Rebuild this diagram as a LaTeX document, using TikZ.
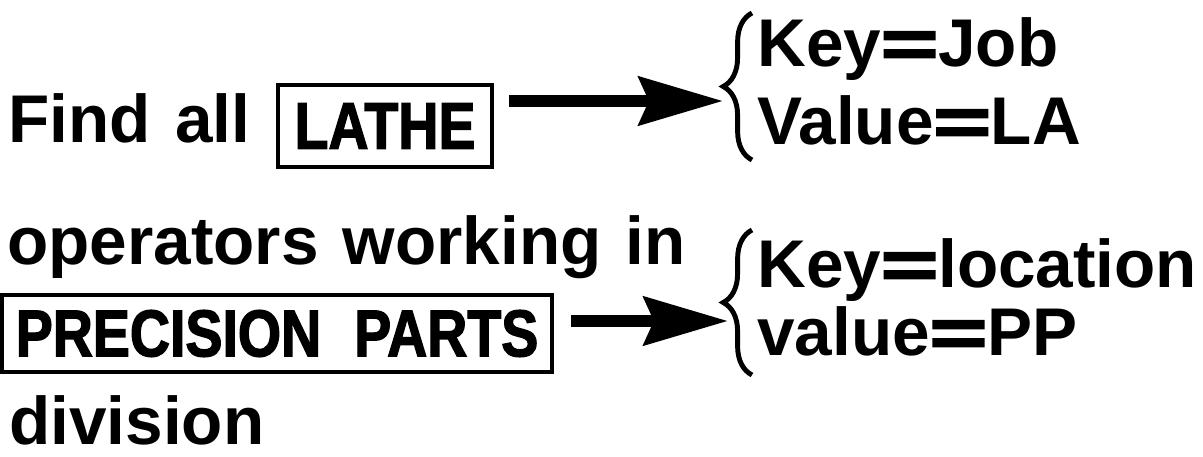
\documentclass[tikz,border=0pt]{standalone}
\usepackage{fontspec}
\setmainfont{Liberation Sans}
\newfontfamily\narrowfont[FakeStretch=0.84,FakeBold=2]{Liberation Sans}
\newfontfamily\heavyfont[FakeBold=3]{Liberation Sans}
\usetikzlibrary{arrows.meta,calc,decorations.pathreplacing}

\newcommand{\wideeq}{{\heavyfont\scalebox{1.45}[1]{=}}}
\newcommand{\mainfont}{\fontsize{48}{55}\selectfont\bfseries\spaceskip=0.36em\relax}
\newcommand{\boxfont}{\fontsize{47}{50}\selectfont\narrowfont\bfseries\spaceskip=0.5em\relax}

\begin{document}
\begin{tikzpicture}[x=0.025cm,y=-0.025cm,
  every node/.style={inner sep=0pt,font=\mainfont},
  boxword/.style={draw,line width=3.2pt,font=\boxfont},
  bigarrow/.style={line width=8.5pt,-{Stealth[length=2.1cm,width=1.2cm,inset=0.25cm]}},
  curly/.style={line width=3.5pt,decorate,decoration={brace,amplitude=0.72cm}}]
\useasboundingbox (0,0) rectangle (1203,457);

%Draw the query sentence
\node[anchor=base west] (find) at (8,143) {Find all};
\node[boxword,minimum width=5.35cm,minimum height=2.05cm] (lathe) at (385,126) {LATHE};
\node[anchor=base west] (operators) at (7,265) {operators working in};
\node[boxword,minimum width=13.75cm,minimum height=1.925cm] (parts) at (277,333.5) {PRECISION PARTS};
\node[anchor=base west] (division) at (9,445) {division};

%Draw braces
\draw[curly] (752,160) -- (752,13);
\draw[curly] (752,375) -- (752,230);
\coordinate (jobtip) at (723,101);
\coordinate (loctip) at (728,321);

%Draw key/value pairs
\node[anchor=base west] (jobkey) at (757,67) {Key\wideeq Job};
\node[anchor=base west] (jobvalue) at (757,145) {Value\wideeq LA};
\node[anchor=base west] (lockey) at (757,288) {Key\wideeq location};
\node[anchor=base west] (locvalue) at (757,356) {value\wideeq PP};

%Draw arrows
\draw[bigarrow] ($(lathe.east |- jobtip)+(15,0)$) -- (jobtip);
\draw[bigarrow] ($(parts.east |- loctip)+(17,0)$) -- (loctip);
\end{tikzpicture}
\end{document}
